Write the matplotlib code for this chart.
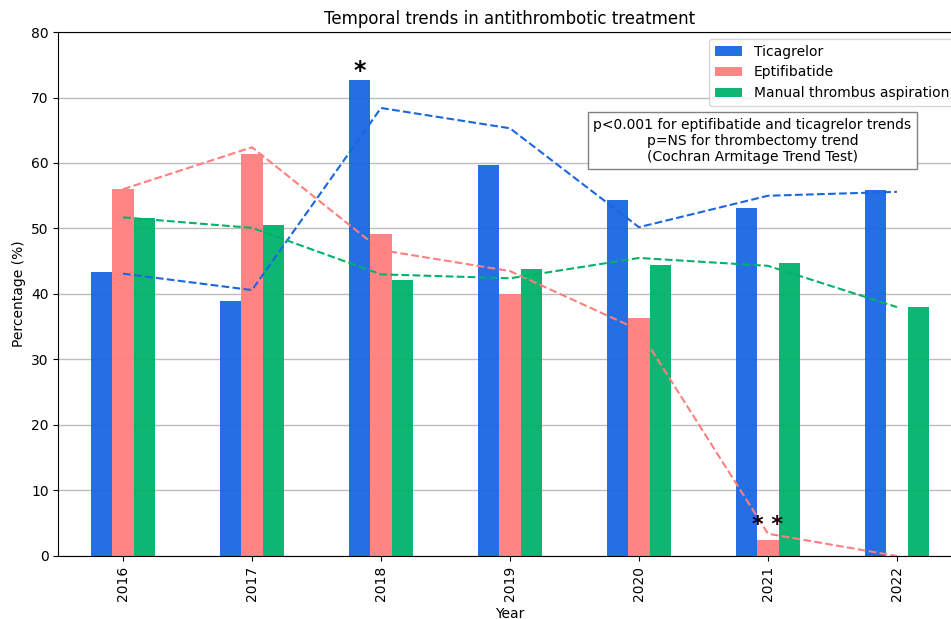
import matplotlib.pyplot as plt
import numpy as np

years = ['2016', '2017', '2018', '2019', '2020', '2021', '2022']

# bar values (%)
ticagrelor = [43.4, 38.9, 72.6, 59.7, 54.3, 53.2, 55.9]
eptifibatide = [56.1, 61.4, 49.2, 40.0, 36.4, 2.4, 0.0]
aspiration = [51.6, 50.5, 42.1, 43.8, 44.5, 44.7, 38.0]

# dashed trend lines (%)
ticagrelor_trend = [43.1, 40.6, 68.4, 65.3, 50.2, 55.0, 55.6]
eptifibatide_trend = [56.0, 62.4, 46.7, 43.5, 34.5, 3.4, 0.0]
aspiration_trend = [51.7, 50.1, 43.0, 42.4, 45.5, 44.3, 38.0]

blue = '#1a66e2'
pink = '#ff7f7f'
green = '#00b26a'

fig = plt.figure(figsize=(9.51, 6.19), dpi=100)
ax = fig.add_axes([0.0615, 0.1018, 0.9495, 0.8465])

x = np.arange(len(years))
w = 0.5 / 3

ax.set_axisbelow(True)
ax.yaxis.grid(True, color='#bdbdbd', linewidth=1)

ax.bar(x - w, ticagrelor, w, color=blue, alpha=0.95, label='Ticagrelor')
ax.bar(x, eptifibatide, w, color=pink, alpha=0.95, label='Eptifibatide')
ax.bar(x + w, aspiration, w, color=green, alpha=0.95, label='Manual thrombus aspiration')

ax.plot(x, ticagrelor_trend, '--', color=blue, linewidth=1.5)
ax.plot(x, eptifibatide_trend, '--', color=pink, linewidth=1.5)
ax.plot(x, aspiration_trend, '--', color=green, linewidth=1.5)

# significance markers
ax.text(2 - w, ticagrelor[2] - 0.4, '*', ha='center', va='bottom',
        fontsize=17, fontweight='bold')
ax.text(5, eptifibatide[5] + 0.8, '* *', ha='center', va='bottom',
        fontsize=16, fontweight='bold')

ax.text(4.88, 63.4, 'p<0.001 for eptifibatide and ticagrelor trends\n'
        'p=NS for thrombectomy trend\n(Cochran Armitage Trend Test)',
        ha='center', va='center', fontsize=10,
        bbox=dict(boxstyle='square,pad=0.4', facecolor='white', edgecolor='gray'))

ax.set_xlim(-0.5, 6.5)
ax.set_ylim(0, 80)
ax.set_xticks(x)
ax.set_xticklabels(years, rotation=90)
ax.set_xlabel('Year')
ax.set_ylabel('Percentage (%)')
ax.set_title('Temporal trends in antithrombotic treatment', fontsize=12)
ax.legend(loc='upper right', fontsize=10)

plt.savefig('out.png', dpi=100)
